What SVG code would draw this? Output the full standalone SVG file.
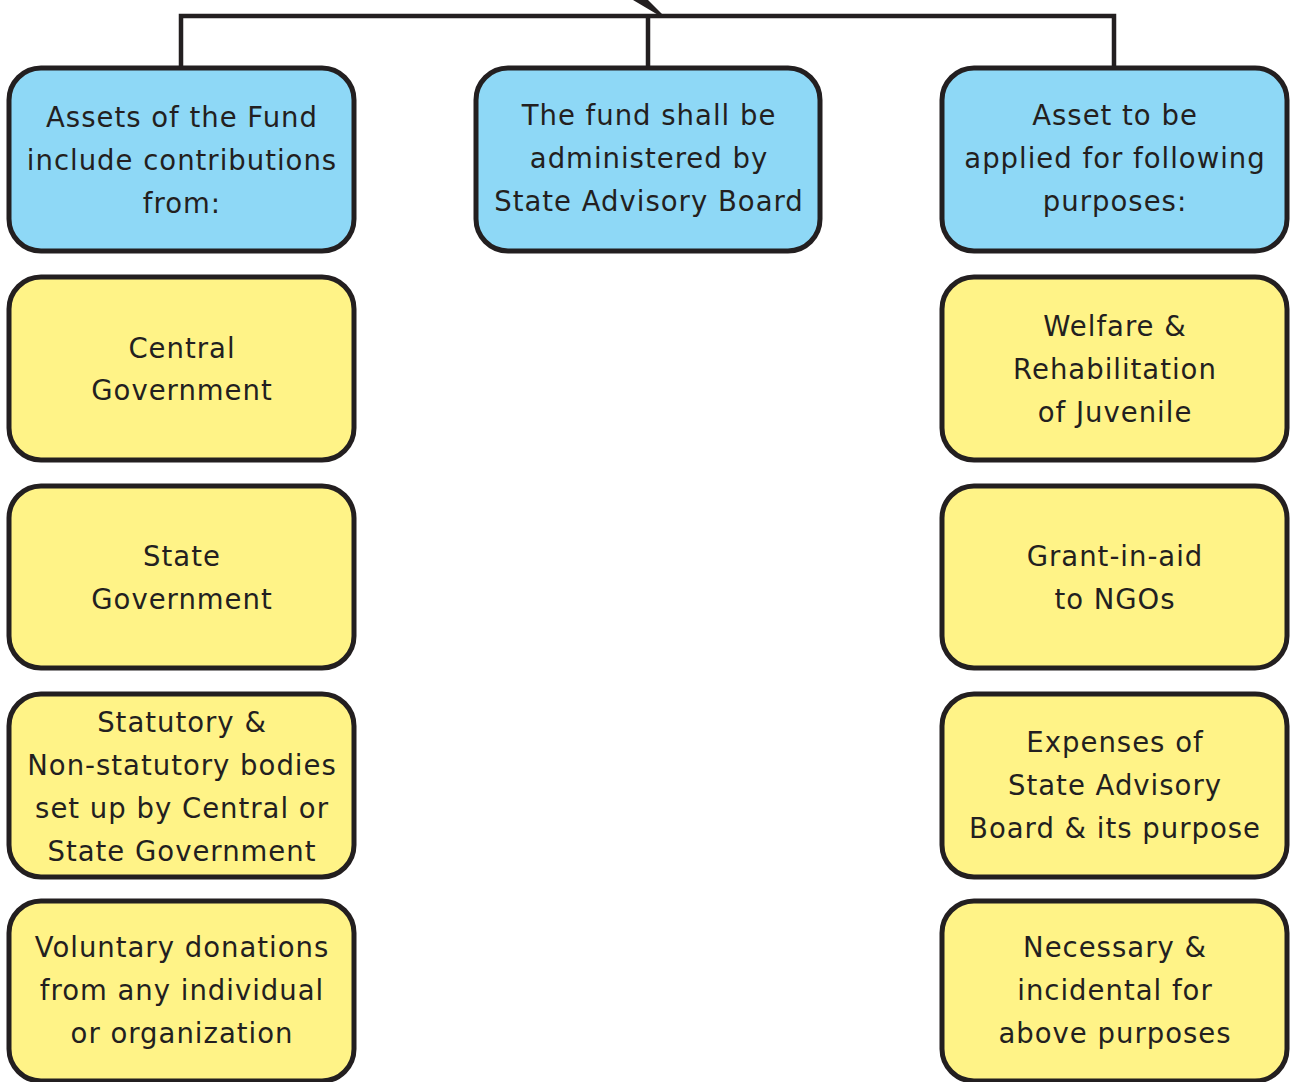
<svg xmlns="http://www.w3.org/2000/svg" width="1294" height="1082" viewBox="0 0 1294 1082">
<style>
.b{fill:#8ed8f6;stroke:#231f20;stroke-width:5}
.y{fill:#fff387;stroke:#231f20;stroke-width:5}
text{font-family:"DejaVu Sans",Verdana,sans-serif;font-size:27.5px;letter-spacing:1px;fill:#231f20;text-anchor:middle}
.c{fill:none;stroke:#231f20;stroke-width:4.5}
</style>
<rect width="1294" height="1082" fill="#fff"/>
<g id="connectors">
<polyline class="c" points="181,67 181,16 1114,16 1114,67"/>
<line class="c" x1="648" y1="16" x2="648" y2="67"/>
<polygon points="633,0 648,0 662,14 660,16" fill="#231f20"/>
</g>
<g id="n-assets"><rect class="b" x="9" y="68" width="345" height="183" rx="32"/>
<text x="182" y="127">Assets of the Fund</text><text x="182" y="170">include contributions</text><text x="182" y="213">from:</text></g>
<g id="n-admin"><rect class="b" x="476" y="68" width="344" height="183" rx="32"/>
<text x="649" y="125">The fund shall be</text><text x="649" y="168">administered by</text><text x="649" y="211">State Advisory Board</text></g>
<g id="n-apply"><rect class="b" x="942" y="68" width="345" height="183" rx="32"/>
<text x="1115" y="125">Asset to be</text><text x="1115" y="168">applied for following</text><text x="1115" y="211">purposes:</text></g>
<g id="n-central"><rect class="y" x="9" y="277" width="345" height="183" rx="32"/>
<text x="182" y="358">Central</text><text x="182" y="400">Government</text></g>
<g id="n-state"><rect class="y" x="9" y="486" width="345" height="182" rx="32"/>
<text x="182" y="566">State</text><text x="182" y="609">Government</text></g>
<g id="n-statutory"><rect class="y" x="9" y="694" width="345" height="183" rx="32"/>
<text x="182" y="732">Statutory &amp;</text><text x="182" y="775">Non-statutory bodies</text><text x="182" y="818">set up by Central or</text><text x="182" y="861">State Government</text></g>
<g id="n-voluntary"><rect class="y" x="9" y="901" width="345" height="180" rx="32"/>
<text x="182" y="957">Voluntary donations</text><text x="182" y="1000">from any individual</text><text x="182" y="1043">or organization</text></g>
<g id="n-welfare"><rect class="y" x="942" y="277" width="345" height="183" rx="32"/>
<text x="1115" y="336">Welfare &amp;</text><text x="1115" y="379">Rehabilitation</text><text x="1115" y="422">of Juvenile</text></g>
<g id="n-grant"><rect class="y" x="942" y="486" width="345" height="182" rx="32"/>
<text x="1115" y="566">Grant-in-aid</text><text x="1115" y="609">to NGOs</text></g>
<g id="n-expenses"><rect class="y" x="942" y="694" width="345" height="183" rx="32"/>
<text x="1115" y="752">Expenses of</text><text x="1115" y="795">State Advisory</text><text x="1115" y="838">Board &amp; its purpose</text></g>
<g id="n-necessary"><rect class="y" x="942" y="901" width="345" height="180" rx="32"/>
<text x="1115" y="957">Necessary &amp;</text><text x="1115" y="1000">incidental for</text><text x="1115" y="1043">above purposes</text></g>
</svg>
